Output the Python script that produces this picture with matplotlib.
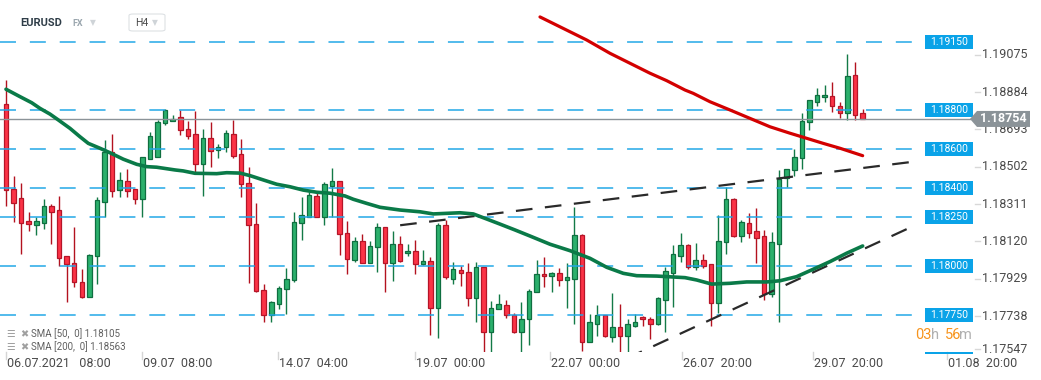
###########################################
# EURUSD H4 candle chart with SMA 50 / 200
###########################################
import matplotlib.pyplot as plt
import matplotlib.transforms as mtransforms
from matplotlib.patches import Polygon, Rectangle, FancyBboxPatch
import numpy as np

plt.rcParams['font.family'] = ['Roboto', 'DejaVu Sans']
plt.rcParams['lines.scale_dashes'] = False

############ data ####################
opens = [1.18830, 1.18396, 1.18348, 1.18232, 1.18210, 1.18223, 1.18309, 1.18286, 1.18051, 1.18015,
         1.17918, 1.17845, 1.18053, 1.18331, 1.18583, 1.18389, 1.18437, 1.18394, 1.18343, 1.18547,
         1.18561, 1.18732, 1.18742, 1.18762, 1.18701, 1.18675, 1.18525, 1.18655, 1.18595, 1.18609,
         1.18675, 1.18573, 1.18425, 1.18217, 1.17877, 1.17753, 1.17806, 1.17882, 1.17928, 1.18222,
         1.18254, 1.18360, 1.18254, 1.18413, 1.18435, 1.18169, 1.18032, 1.18128, 1.18017, 1.18097,
         1.18200, 1.18015, 1.18113, 1.18066, 1.18078, 1.18010, 1.18026, 1.17785, 1.18210, 1.17937,
         1.17981, 1.17969, 1.17836, 1.17998, 1.17662, 1.17780, 1.17804, 1.17753, 1.17662, 1.17729,
         1.17867, 1.17959, 1.17949, 1.17964, 1.17928, 1.17937, 1.18159, 1.17615, 1.17703, 1.17749,
         1.17637, 1.17690, 1.17642, 1.17696, 1.17739, 1.17729, 1.17703, 1.17826, 1.17964, 1.18051,
         1.18107, 1.17997, 1.18031, 1.18010, 1.17814, 1.18123, 1.18343, 1.18157, 1.18223, 1.18179,
         1.18153, 1.17857, 1.18113, 1.18454, 1.18493, 1.18553, 1.18740, 1.18842, 1.18865, 1.18870,
         1.18822, 1.18783, 1.18977, 1.18783]
highs = [1.18953, 1.18462, 1.18425, 1.18276, 1.18251, 1.18346, 1.18321, 1.18360, 1.18051, 1.18201,
         1.17986, 1.18061, 1.18355, 1.18646, 1.18677, 1.18481, 1.18496, 1.18397, 1.18561, 1.18686,
         1.18749, 1.18805, 1.18773, 1.18800, 1.18744, 1.18796, 1.18703, 1.18738, 1.18626, 1.18697,
         1.18749, 1.18651, 1.18508, 1.18322, 1.17908, 1.17823, 1.17899, 1.17991, 1.18276, 1.18355,
         1.18382, 1.18379, 1.18430, 1.18503, 1.18435, 1.18232, 1.18148, 1.18164, 1.18128, 1.18222,
         1.18200, 1.18181, 1.18155, 1.18114, 1.18135, 1.18084, 1.18048, 1.18222, 1.18237, 1.18020,
         1.18000, 1.18015, 1.18022, 1.17998, 1.17821, 1.17858, 1.17826, 1.17763, 1.17818, 1.17886,
         1.18032, 1.18046, 1.17971, 1.17991, 1.18017, 1.18304, 1.18165, 1.17756, 1.17800, 1.17753,
         1.17864, 1.17806, 1.17731, 1.17756, 1.17744, 1.17739, 1.17843, 1.17995, 1.18109, 1.18172,
         1.18113, 1.18119, 1.18061, 1.18010, 1.18263, 1.18406, 1.18348, 1.18237, 1.18273, 1.18298,
         1.18184, 1.18174, 1.18493, 1.18496, 1.18600, 1.18786, 1.18849, 1.18912, 1.18928, 1.18943,
         1.18842, 1.19086, 1.19045, 1.18805]
lows = [1.18310, 1.18229, 1.18065, 1.18182, 1.18159, 1.18189, 1.18116, 1.18002, 1.17816, 1.17893,
        1.17836, 1.17841, 1.17911, 1.18254, 1.18356, 1.18356, 1.18356, 1.18317, 1.18252, 1.18547,
        1.18558, 1.18721, 1.18742, 1.18672, 1.18651, 1.18481, 1.18362, 1.18508, 1.18556, 1.18587,
        1.18553, 1.18356, 1.17916, 1.17869, 1.17717, 1.17717, 1.17780, 1.17756, 1.17918, 1.18136,
        1.18254, 1.18251, 1.18213, 1.18254, 1.18058, 1.17962, 1.18020, 1.18015, 1.18015, 1.17969,
        1.17867, 1.17927, 1.18022, 1.18055, 1.17962, 1.18007, 1.17650, 1.17635, 1.17933, 1.17908,
        1.17901, 1.17799, 1.17717, 1.17555, 1.17555, 1.17780, 1.17737, 1.17661, 1.17550, 1.17596,
        1.17867, 1.17896, 1.17867, 1.17901, 1.17789, 1.17707, 1.17569, 1.17615, 1.17642, 1.17638,
        1.17615, 1.17546, 1.17550, 1.17688, 1.17696, 1.17630, 1.17700, 1.17666, 1.17790, 1.18020,
        1.17988, 1.17981, 1.17991, 1.17696, 1.17763, 1.18061, 1.18152, 1.18126, 1.18147, 1.18019,
        1.17829, 1.17843, 1.17717, 1.18408, 1.18464, 1.18500, 1.18699, 1.18820, 1.18842, 1.18791,
        1.18757, 1.18750, 1.18750, 1.18752]
closes = [1.18392, 1.18326, 1.18223, 1.18215, 1.18232, 1.18309, 1.18280, 1.18041, 1.18010, 1.17918,
          1.17845, 1.18056, 1.18338, 1.18583, 1.18387, 1.18440, 1.18387, 1.18343, 1.18558, 1.18665,
          1.18738, 1.18798, 1.18754, 1.18696, 1.18668, 1.18522, 1.18655, 1.18592, 1.18612, 1.18680,
          1.18566, 1.18420, 1.18210, 1.17872, 1.17753, 1.17816, 1.17887, 1.17935, 1.18225, 1.18263,
          1.18365, 1.18254, 1.18420, 1.18435, 1.18164, 1.18036, 1.18128, 1.18017, 1.18102, 1.18200,
          1.18015, 1.18113, 1.18026, 1.18078, 1.18010, 1.18027, 1.17785, 1.18210, 1.17944, 1.17985,
          1.17968, 1.17836, 1.17998, 1.17662, 1.17785, 1.17809, 1.17749, 1.17662, 1.17729, 1.17872,
          1.17959, 1.17949, 1.17964, 1.17928, 1.17944, 1.18159, 1.17615, 1.17714, 1.17749, 1.17642,
          1.17690, 1.17642, 1.17705, 1.17717, 1.17729, 1.17703, 1.17838, 1.17974, 1.18061, 1.18107,
          1.17998, 1.18031, 1.18003, 1.17814, 1.18128, 1.18343, 1.18157, 1.18225, 1.18172, 1.18147,
          1.17857, 1.18123, 1.18445, 1.18496, 1.18558, 1.18744, 1.18849, 1.18875, 1.18875, 1.18819,
          1.18783, 1.18972, 1.18776, 1.18754]

# moving averages (candle index, price)
sma50_x = [0, 1.85, 3.39, 4.49, 5.80, 6.90, 8.44, 9.76, 10.86, 12.40,
           13.72, 15.48, 17.24, 18.56, 19.88, 22.30, 23.39, 24.93, 27.80, 29.12,
           30.87, 32.19, 33.94, 35.71, 37.47, 39.22, 40.99, 42.74, 44.72, 45.82,
           47.59, 49.34, 51.98, 54.62, 56.37, 58.14, 59.89, 61.65, 63.42, 65.17,
           67.15, 69.13, 71.77, 74.41, 77.04, 79.25, 81.44, 83.21, 85.84, 89.58,
           91.12, 93.10, 95.51, 97.72, 100.36, 102.11, 104.31, 106.50, 108.71, 110.91,
           113.02]
sma50_y = [1.18906, 1.18868, 1.18837, 1.18808, 1.18779, 1.18749, 1.18706, 1.18663, 1.18629, 1.18604,
           1.18581, 1.18548, 1.18522, 1.18510, 1.18507, 1.18493, 1.18488, 1.18476, 1.18474, 1.18479,
           1.18477, 1.18464, 1.18442, 1.18420, 1.18407, 1.18390, 1.18379, 1.18374, 1.18360, 1.18343,
           1.18322, 1.18302, 1.18288, 1.18279, 1.18268, 1.18271, 1.18274, 1.18268, 1.18242, 1.18216,
           1.18186, 1.18155, 1.18113, 1.18080, 1.18041, 1.17995, 1.17964, 1.17952, 1.17950, 1.17942,
           1.17930, 1.17909, 1.17913, 1.17920, 1.17920, 1.17926, 1.17947, 1.17985, 1.18024, 1.18067,
           1.18104]
sma200_x = [70.45, 76.61, 79.68, 82.32, 84.96, 87.16, 89.58, 90.67, 92.88, 95.51,
            98.15, 100.79, 103.43, 105.63, 107.82, 110.03, 113.02]
sma200_y = [1.19276, 1.19158, 1.19090, 1.19039, 1.18988, 1.18950, 1.18902, 1.18885, 1.18842, 1.18800,
            1.18757, 1.18714, 1.18681, 1.18655, 1.18629, 1.18604, 1.18566]

# hand drawn trend lines
trend_upper_x = [52.0, 120.1]
trend_upper_y = [1.18210, 1.18537]
trend_lower_x = [78.4, 120.1]
trend_lower_y = [1.17466, 1.18213]

levels = [1.19150, 1.18800, 1.18600, 1.18400, 1.18250, 1.18000, 1.17750]
axis_prices = [1.19075, 1.18884, 1.18693, 1.18502, 1.18311, 1.18120, 1.17929, 1.17738, 1.17547]
last_price = 1.18754
sma50_last = 1.18105
sma200_last = 1.18563

time_labels = ['06.07.2021   08:00', '09.07  08:00', '14.07  04:00', '19.07  00:00',
               '22.07  00:00', '26.07  20:00', '29.07  20:00', '01.08  20:00']
time_pos = [0, 18, 35.9, 54, 71.8, 89.2, 106.5, 124.1]

################ plot ###################
W, H = 1041, 380
fig = plt.figure(figsize=(W / 100, H / 100), dpi=100)
fig.patch.set_facecolor('white')

ax_top, ax_bot, ax_right = 15, 352, 975
ax = fig.add_axes([0, 1 - ax_bot / H, ax_right / W, (ax_bot - ax_top) / H])
ax.set_xlim(-0.79, 127.84)
ax.set_ylim(1.175615, 1.192859)
for s in ax.spines.values():
    s.set_visible(False)
ax.set_xticks([])
ax.set_yticks([])

blend = mtransforms.blended_transform_factory(ax.transAxes, ax.transData)
blend_x = mtransforms.blended_transform_factory(ax.transData, ax.transAxes)

# price scale on the right (labels sit a little above their value, the last one is kept inside)
for i, p in enumerate(axis_prices):
    up_shift = 1.5 if i < len(axis_prices) - 1 else 5.5
    ax.annotate('%.5f' % p, xy=(1, p), xycoords=blend, xytext=(7, up_shift), textcoords='offset pixels',
                ha='left', va='center', fontsize=9, color='#4a4a4a', annotation_clip=False)
    ax.annotate('', xy=(1, p), xycoords=blend, xytext=(0, up_shift), textcoords='offset pixels',
                annotation_clip=False)
    ax.plot([1.0, 1.0 + 5 / ax_right], [p, p], transform=blend + mtransforms.Affine2D().translate(0, up_shift),
            color='#d8d8d8', lw=1, clip_on=False)

# candles
o = np.array(opens)
h = np.array(highs)
l = np.array(lows)
c = np.array(closes)
x = np.arange(len(o))
up = c >= o
dn = ~up
body = np.maximum(np.abs(c - o), 0.00004)
bottom = np.minimum(o, c)
ax.vlines(x[up], l[up], h[up], color='#137a47', lw=1, zorder=2)
ax.vlines(x[dn], l[dn], h[dn], color='#b3121f', lw=1, zorder=2)
ax.bar(x[up], body[up], bottom=bottom[up], width=0.6, color='#2bb06c', edgecolor='#0f6e40', lw=0.9, zorder=3)
ax.bar(x[dn], body[dn], bottom=bottom[dn], width=0.6, color='#fb3346', edgecolor='#b51528', lw=0.9, zorder=3)

# level lines + labels
for lv in levels:
    ax.axhline(lv, xmin=0, xmax=922 / ax_right, color='#1fa6e6', lw=1.2, dashes=(11.5, 10), alpha=0.9, zorder=4)
    box_h = 14 / 19543
    ax.add_patch(Rectangle((925 / ax_right, lv - box_h / 2), 48 / ax_right, box_h, transform=blend,
                           facecolor='#0aa3e8', edgecolor='none', zorder=6, clip_on=False))
    ax.text(949 / ax_right, lv, '%.5f' % lv, transform=blend, ha='center', va='center',
            color='white', fontsize=7.5, zorder=7)

# small clipped box at the bottom edge
fig.patches.append(Rectangle((925 / W, 1 - 354 / H), 48 / W, 2 / H, transform=fig.transFigure,
                             facecolor='#0aa3e8', edgecolor='none'))

# trend lines
ax.plot(trend_upper_x, trend_upper_y, color='#2a2a2a', lw=1.6, dashes=(12, 9), zorder=5)
ax.plot(trend_lower_x, trend_lower_y, color='#2a2a2a', lw=1.6, dashes=(12, 9), zorder=5)

# moving averages
ax.plot(sma50_x, sma50_y, color='#0a7a48', lw=2.6, zorder=6, solid_capstyle='round')
ax.plot(sma200_x, sma200_y, color='#d30000', lw=2.3, zorder=6, solid_capstyle='round')

# current price line and tag
ax.axhline(last_price, xmin=0, xmax=970 / ax_right, color='#8b9398', lw=1, zorder=5)
fig.canvas.draw()
py = ax.transData.transform((0, last_price))[1]
tag = Polygon([[970, py], [977, py + 8], [1030, py + 8], [1030, py - 8], [977, py - 8]],
              closed=True, transform=mtransforms.IdentityTransform(), facecolor='#8b9398',
              edgecolor='none', zorder=10)
fig.patches.append(tag)
fig.text(1003 / W, py / H, '%.5f' % last_price, ha='center', va='center', color='white',
         fontsize=9, fontweight='bold', zorder=11)

# x axis labels
for pos, lab in zip(time_pos, time_labels):
    ax.plot([pos, pos], [0, -0.02], transform=blend_x, color='#d5d5d5', lw=1, clip_on=False)
    ax.annotate(lab, xy=(pos, 0), xycoords=blend_x, xytext=(1, -5), textcoords='offset pixels',
                ha='left', va='top', fontsize=9, color='#4a4a4a', annotation_clip=False)

# legend in the bottom left corner
fig.text(6 / W, 1 - 334 / H, '\u2630', fontsize=7, color='#a0a0a0', va='center', family=['DejaVu Sans'])
fig.text(20 / W, 1 - 334 / H, '\u2716', fontsize=7, color='#a0a0a0', va='center', family=['DejaVu Sans'])
fig.text(31 / W, 1 - 334 / H, 'SMA [50,  0] %.5f' % sma50_last, fontsize=7, color='#606060', va='center')
fig.text(6 / W, 1 - 347 / H, '\u2630', fontsize=7, color='#a0a0a0', va='center', family=['DejaVu Sans'])
fig.text(20 / W, 1 - 347 / H, '\u2716', fontsize=7, color='#a0a0a0', va='center', family=['DejaVu Sans'])
fig.text(31 / W, 1 - 347 / H, 'SMA [200,  0] %.5f' % sma200_last, fontsize=7, color='#606060', va='center')

# countdown
cy = 1 - 335 / H
fig.text(915 / W, cy, '03', fontsize=10.5, color='#f7941d', va='center')
fig.text(930.5 / W, cy, 'h', fontsize=10.5, color='#b0b0b0', va='center')
fig.text(945 / W, cy, '56', fontsize=10.5, color='#f7941d', va='center')
fig.text(959.5 / W, cy, 'm', fontsize=10.5, color='#b0b0b0', va='center')

# header
fig.text(20 / W, 1 - 23.5 / H, 'EURUSD', fontsize=8, fontweight='bold', color='#2f3d48', va='center')
fig.text(72 / W, 1 - 24 / H, 'FX', fontsize=6.5, fontweight='bold', color='#9aa6ae', va='center')
fig.text(90 / W, 1 - 23 / H, '\u25bc', fontsize=5.5, color='#cfd4d8', va='center', family=['DejaVu Sans'])
fig.patches.append(FancyBboxPatch((129 / W, 1 - 31 / H), 36 / W, 17 / H,
                                  boxstyle='round,pad=0,rounding_size=0.004', transform=fig.transFigure,
                                  facecolor='white', edgecolor='#dde1e4', lw=0.8))
fig.text(135 / W, 1 - 23.5 / H, 'H4', fontsize=7.5, color='#4a4a4a', va='center')
fig.text(152 / W, 1 - 23 / H, '\u25bc', fontsize=5.5, color='#cfd4d8', va='center', family=['DejaVu Sans'])

plt.savefig('out.png', dpi=100)
plt.close()
